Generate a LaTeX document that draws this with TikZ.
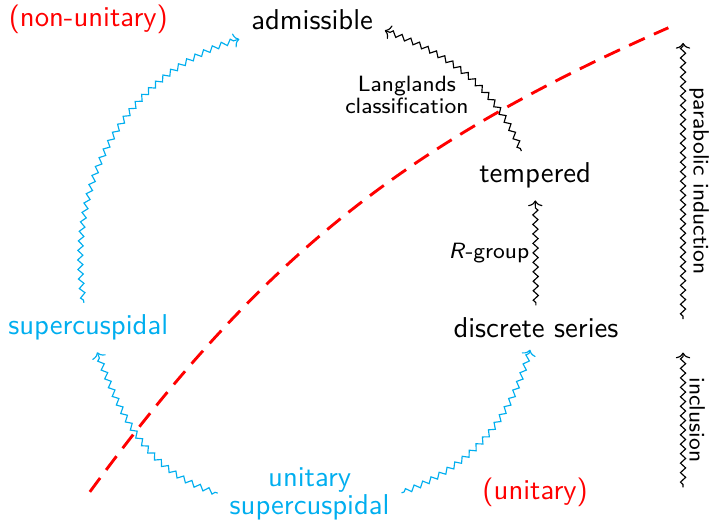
\documentclass[tikz,border=0pt]{standalone}
\usepackage{xcolor}
\usetikzlibrary{arrows.meta, decorations.pathmorphing}
\definecolor{supcol}{RGB}{0,174,239}
\definecolor{unitcol}{RGB}{255,0,0}

\begin{document}
\begin{tikzpicture}[font=\sffamily,
    rep/.style={inner sep=3pt, font=\sffamily\fontsize{10}{9.7}\selectfont},
    tag/.style={inner sep=2pt, font=\sffamily\fontsize{7.7}{7.5}\selectfont},
    squig/.style={-{To[width=5pt,length=2pt]}, decorate,
        decoration={zigzag, segment length=3.3pt, amplitude=0.9pt, pre length=2pt, post length=2pt},
        shorten <=1pt, shorten >=1pt},
    cut/.style={unitcol, line width=1pt, dash pattern=on 6pt off 3.5pt}]

    \useasboundingbox (0,0) rectangle (8.69,6.40);

    % representations
    \node[rep] (adm) at (3.82,6.16) {admissible};
    \node[rep, text=unitcol] (nonunit) at (1.08,6.16) {(non-unitary)};
    \node[rep] (temp) at (6.55,4.25) {tempered};
    \node[rep] (ds) at (6.56,2.39) {discrete series};
    \node[rep, text=supcol] (sc) at (1.08,2.39) {supercuspidal};
    \node[rep, text=supcol, align=center] (usc) at (3.79,0.355) {unitary\\supercuspidal};
    \node[rep, text=unitcol] (unit) at (6.55,0.37) {(unitary)};

    % cyan arrows
    \draw[squig, supcol] (sc) to[out=100, in=-165] (adm);
    \draw[squig, supcol] (usc.west) to[out=165, in=-70] (sc);
    \draw[squig, supcol] (usc.east) to[out=20, in=-105] (ds);

    % black arrows
    \draw[squig] (temp.120) to[out=112, in=-20] (adm.-8);
    \node[tag, align=center] (lltag) at (4.98,5.24) {Langlands\\classification};
    \draw[squig] (ds) -- node[tag, left] {\textsl{R}-group} (temp);

    % unitary / non-unitary cut
    \coordinate (cutlo) at (1.10,0.38);
    \coordinate (cuthi) at (8.18,6.06);
    \draw[cut] (cutlo) to[bend left=15] (cuthi);

    % legend on the right
    \coordinate (pibot) at (8.36,2.46);
    \coordinate (pitop) at (8.36,5.91);
    \coordinate (inbot) at (8.36,0.40);
    \coordinate (intop) at (8.36,2.12);
    \draw[squig] (pibot) -- node[tag, midway, rotate=-90, anchor=south] {parabolic induction} (pitop);
    \draw[squig] (inbot) -- node[tag, midway, rotate=-90, anchor=south] {inclusion} (intop);

\end{tikzpicture}
\end{document}
